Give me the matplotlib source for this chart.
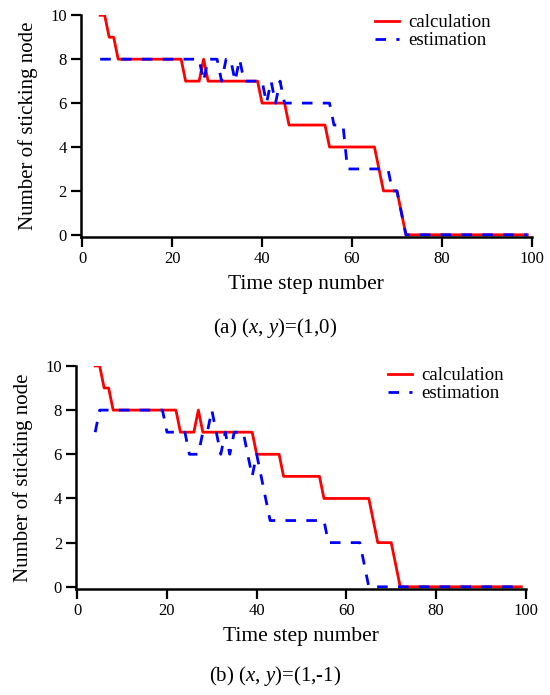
import matplotlib.pyplot as plt

plt.rcParams['font.family'] = ['Liberation Serif', 'DejaVu Serif']
plt.rcParams['mathtext.fontset'] = 'custom'
plt.rcParams['mathtext.it'] = 'Liberation Serif:italic'
plt.rcParams['mathtext.rm'] = 'Liberation Serif'

# (a) (x, y)=(1,0)
calc_a_t = [4, 5, 6, 7, 8, 22, 23, 26, 27, 28, 39, 40, 45, 46, 54, 55, 65, 67, 70, 72, 99]
calc_a_v = [10, 10, 9, 9, 8, 8, 7, 7, 8, 7, 7, 6, 6, 5, 5, 4, 4, 2, 2, 0, 0]
est_a_t = [4, 26, 27, 28, 29, 30, 31, 32, 33, 34, 35, 36, 39, 40, 41, 42, 43, 44, 45, 46,
           55, 56, 58, 59, 68, 69, 70, 72, 99]
est_a_v = [8, 8, 7, 8, 8, 8, 7, 8, 8, 7, 8, 7, 7, 7, 6, 7, 6, 7, 6, 6,
           6, 5, 5, 3, 3, 2, 2, 0, 0]

# (b) (x, y)=(1,-1)
calc_b_t = [4, 5, 6, 7, 8, 22, 23, 26, 27, 28, 39, 40, 45, 46, 54, 55, 65, 67, 70, 72, 99]
calc_b_v = [10, 10, 9, 9, 8, 8, 7, 7, 8, 7, 7, 6, 6, 5, 5, 4, 4, 2, 2, 0, 0]
est_b_t = [4, 5, 19, 20, 24, 25, 26, 27, 28, 29, 30, 31, 32, 33, 34, 35, 37, 38, 39, 40,
           41, 42, 43, 55, 56, 63, 65, 99]
est_b_v = [7, 8, 8, 7, 7, 6, 6, 6, 7, 7, 8, 7, 6, 7, 6, 7, 7, 6, 5, 6,
           5, 4, 3, 3, 2, 2, 0, 0]

captions = ['(a) ($x$, $y$)=(1,0)', '(b) ($x$, $y$)=(1,-1)']

fig = plt.figure(figsize=(5.5, 6.95), dpi=100)
ax1 = fig.add_axes([0.147, 0.659, 0.820, 0.319])
ax2 = fig.add_axes([0.138, 0.1525, 0.818, 0.321])

panels = [(ax1, calc_a_t, calc_a_v, est_a_t, est_a_v, (0.652, 1.005)),
          (ax2, calc_b_t, calc_b_v, est_b_t, est_b_v, (0.693, 0.995))]

for ax, ct, cv, et, ev, anchor in panels:
    ax.plot(ct, cv, color='red', lw=2.0, label='calculation')
    ax.plot(et, ev, color='blue', lw=2.0, dashes=(3.8, 3.7), label='estimation')
    ax.set_xlim(-0.3, 100)
    ax.set_ylim(-0.1, 10)
    ax.set_xticks(range(0, 101, 20))
    ax.set_yticks(range(0, 11, 2))
    for s in ['top', 'right']:
        ax.spines[s].set_visible(False)
    for s in ['left', 'bottom']:
        ax.spines[s].set_linewidth(1.8)
    ax.tick_params(direction='out', length=7, width=1.6, labelsize=12, pad=3)
    ax.set_xlabel('Time step number', fontsize=15.5, labelpad=6)
    ax.set_ylabel('Number of sticking node', fontsize=15, labelpad=9)
    ax.legend(loc='upper left', bbox_to_anchor=anchor, frameon=False, fontsize=13.5,
              borderpad=0, borderaxespad=0, handlelength=1.3, handletextpad=0.5,
              labelspacing=0.05)

fig.text(0.5, 1 - 328 / 695, captions[0], ha='center', va='center', fontsize=15)
fig.text(0.5, 1 - 676 / 695, captions[1], ha='center', va='center', fontsize=15)

fig.savefig('out.png', dpi=100)
